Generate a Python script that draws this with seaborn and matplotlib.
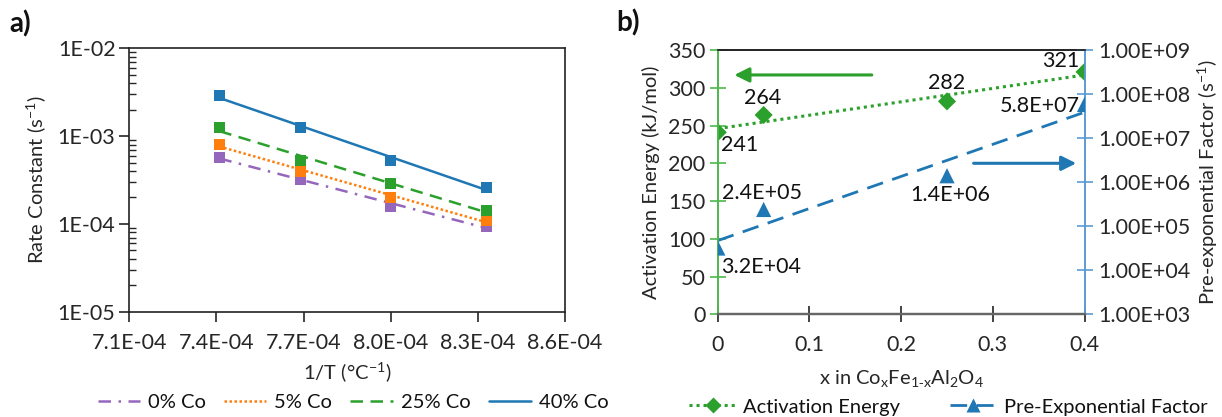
import numpy as np
import pandas as pd
import matplotlib
matplotlib.use("Agg")
import matplotlib.pyplot as plt
import seaborn as sns
from matplotlib.lines import Line2D
from matplotlib.ticker import FixedLocator, FuncFormatter, LogLocator, NullFormatter

# ---------------- data ----------------
inv_T = [7.41e-4, 7.69e-4, 8.00e-4, 8.33e-4]
k_0co = [5.7e-4, 3.2e-4, 1.6e-4, 9.4e-5]
k_5co = [8.0e-4, 4.0e-4, 2.0e-4, 1.1e-4]
k_25co = [1.24e-3, 5.3e-4, 2.88e-4, 1.41e-4]
k_40co = [2.88e-3, 1.26e-3, 5.3e-4, 2.6e-4]
series_names = ["0% Co", "5% Co", "25% Co", "40% Co"]

x_co = [0.0, 0.05, 0.25, 0.40]
act_energy = [241, 264, 282, 321]
pre_exp = [3.2e4, 2.4e5, 1.4e6, 5.8e7]
act_labels = ["241", "264", "282", "321"]
pre_labels = ["3.2E+04", "2.4E+05", "1.4E+06", "5.8E+07"]

a_xticks = [7.1e-4, 7.4e-4, 7.7e-4, 8.0e-4, 8.3e-4, 8.6e-4]
a_yticks = [1e-5, 1e-4, 1e-3, 1e-2]
b_xticks = [0, 0.1, 0.2, 0.3, 0.4]
b_yticks = [0, 50, 100, 150, 200, 250, 300, 350]
b_y2ticks = [1e3, 1e4, 1e5, 1e6, 1e7, 1e8, 1e9]

# ---------------- style ----------------
sns.set_style("ticks")
plt.rcParams["font.family"] = ["Lato", "DejaVu Sans"]
plt.rcParams["axes.linewidth"] = 1.2
plt.rcParams["text.color"] = "#111111"
FT = 15.5   # tick labels
FL = 14.5   # axis titles / legends
FD = 15.5   # data labels

c_purple = "#9467bd"
c_orange = "#ff7f0e"
c_green = "#2ca02c"
c_blue = "#1f77b4"

fig = plt.figure(figsize=(12.22, 4.17), dpi=100)
axA = fig.add_axes([0.1059, 0.2525, 0.3562, 0.6317])
axB = fig.add_axes([0.5874, 0.2463, 0.3001, 0.6337])

# ---------------- panel a ----------------
ks = [k_0co, k_5co, k_25co, k_40co]
colors = [c_purple, c_orange, c_green, c_blue]
styles = [(0, (5, 3, 1, 3)), (0, (1, 1)), (0, (5, 3)), "-"]
handles_a = []
for name, k, col, ls in zip(series_names, ks, colors, styles):
    df = pd.DataFrame({"x": inv_T, "k": k})
    p = np.polyfit(np.array(inv_T), np.log10(k), 1)
    xf = np.array([inv_T[0], inv_T[-1]])
    fit = pd.DataFrame({"x": xf, "k": 10 ** np.polyval(p, xf)})
    sns.lineplot(data=fit, x="x", y="k", ax=axA, color=col, lw=1.8,
                 linestyle=ls, zorder=2)
    sns.scatterplot(data=df, x="x", y="k", ax=axA, color=col, marker="s",
                    s=65, edgecolor="none", zorder=3)
    handles_a.append(Line2D([], [], color=col, lw=1.8, linestyle=ls))

axA.set_yscale("log")
axA.set_xlim(7.1e-4, 8.6e-4)
axA.set_ylim(1e-5, 1e-2)
axA.xaxis.set_major_locator(FixedLocator(a_xticks))
axA.xaxis.set_major_formatter(FuncFormatter(lambda v, p: f"{v*1e4:.1f}E-04"))
axA.yaxis.set_major_locator(FixedLocator(a_yticks))
axA.yaxis.set_major_formatter(FuncFormatter(lambda v, p: f"1E-{abs(int(round(np.log10(v)))):02d}"))
axA.yaxis.set_minor_locator(LogLocator(base=10, subs=np.arange(2, 10)))
axA.yaxis.set_minor_formatter(NullFormatter())
axA.tick_params(axis="y", which="major", direction="out", length=7, width=1.2,
                labelsize=FT, pad=3)
axA.tick_params(axis="y", which="minor", direction="in", length=5, width=1.0)
axA.tick_params(axis="x", which="major", direction="out", length=7, width=1.2,
                labelsize=FT, pad=8)
for s in axA.spines.values():
    s.set_color("#222222")
axA.set_xlabel("1/T (°C$^{\\mathregular{-1}}$)", fontsize=FL, labelpad=6)
axA.set_ylabel("Rate Constant (s$^{\\mathregular{-1}}$)", fontsize=FL, labelpad=6)
fig.legend(handles_a, series_names, loc="center", bbox_to_anchor=(0.289, 0.034),
           ncol=4, frameon=False, fontsize=FL, handlelength=2.1,
           handletextpad=0.4, columnspacing=0.9)
fig.text(0.008, 0.942, "a)", fontsize=20, fontweight="bold", va="center")

# ---------------- panel b ----------------
axB2 = axB.twinx()
dfE = pd.DataFrame({"x": x_co, "E": act_energy})
dfA = pd.DataFrame({"x": x_co, "A": pre_exp})

pE = np.polyfit(np.array(x_co), np.array(act_energy, float), 1)
pA = np.polyfit(np.array(x_co), np.log10(pre_exp), 1)
xf = np.array([0.0, 0.4])
sns.lineplot(data=pd.DataFrame({"x": xf, "E": np.polyval(pE, xf)}), x="x", y="E",
             ax=axB, color=c_green, lw=2.2, linestyle=(0, (1, 1.3)), zorder=2)
sns.scatterplot(data=dfE, x="x", y="E", ax=axB, color=c_green, marker="D",
                s=85, edgecolor="none", zorder=3)
sns.lineplot(data=pd.DataFrame({"x": xf, "A": 10 ** np.polyval(pA, xf)}), x="x", y="A",
             ax=axB2, color=c_blue, lw=2.0, linestyle=(0, (6, 3.5)), zorder=2)
sns.scatterplot(data=dfA, x="x", y="A", ax=axB2, color=c_blue, marker="^",
                s=120, edgecolor="none", zorder=3)

axB.set_xlim(0, 0.4)
axB.set_ylim(0, 350)
axB2.set_yscale("log")
axB2.set_ylim(1e3, 1e9)
axB.xaxis.set_major_locator(FixedLocator(b_xticks))
axB.xaxis.set_major_formatter(FuncFormatter(lambda v, p: "0" if v == 0 else f"{v:.1f}"))
axB.yaxis.set_major_locator(FixedLocator(b_yticks))
axB2.yaxis.set_major_locator(FixedLocator(b_y2ticks))
axB2.yaxis.set_major_formatter(FuncFormatter(lambda v, p: f"1.00E+{int(round(np.log10(v))):02d}"))
axB2.yaxis.set_minor_locator(FixedLocator([]))
axB2.yaxis.set_minor_formatter(NullFormatter())

g_sp = "#4cb84c"
b_sp = "#5b9bd5"
axB.tick_params(axis="x", direction="inout", length=12, width=1.2, labelsize=FT,
                pad=9, color="#222222")
axB.tick_params(axis="y", direction="inout", length=12, width=1.2, labelsize=FT,
                pad=3, color=g_sp)
axB2.tick_params(axis="y", direction="inout", length=12, width=1.2, labelsize=FT,
                 pad=4, color=b_sp)
for ax in (axB, axB2):
    ax.spines["left"].set_color(g_sp)
    ax.spines["right"].set_color(b_sp)
    ax.spines["top"].set_color("#222222")
    ax.spines["bottom"].set_color("#666666")
    ax.spines["bottom"].set_linewidth(1.6)
axB.set_xlabel("x in Co$_\\mathregular{x}$Fe$_\\mathregular{1\u2011x}$Al$_\\mathregular{2}$O$_\\mathregular{4}$",
               fontsize=FL, labelpad=10)
axB.set_ylabel("Activation Energy (kJ/mol)", fontsize=FL, labelpad=6)
axB2.set_ylabel("Pre-exponential Factor (s$^{\\mathregular{-1}}$)", fontsize=FL, labelpad=3)

# data labels
e_pos = [(0.0235, 224), (0.049, 287), (0.249, 307), (0.374, 335)]
a_pos = [(0.047, 62), (0.048, 161), (0.254, 158), (0.351, 276)]
for (xp, yp), t in zip(e_pos, act_labels):
    axB.text(xp, yp, t, fontsize=FD, ha="center", va="center", zorder=5)
for (xp, yp), t in zip(a_pos, pre_labels):
    axB.text(xp, yp, t, fontsize=FD, ha="center", va="center", zorder=5)

# arrows
axB.annotate("", xy=(0.015, 317), xytext=(0.171, 317),
             arrowprops=dict(arrowstyle="-|>", color=c_green, lw=2.2, mutation_scale=22))
axB.annotate("", xy=(0.394, 200), xytext=(0.276, 200),
             arrowprops=dict(arrowstyle="-|>", color=c_blue, lw=2.2, mutation_scale=22))

handles_b = [Line2D([], [], color=c_green, lw=2.2, linestyle=(0, (1, 1.3)), marker="D",
                    markersize=8, markeredgecolor="none"),
             Line2D([], [], color=c_blue, lw=2.0, linestyle=(0, (6, 3.5)), marker="^",
                    markersize=10, markeredgecolor="none")]
fig.legend(handles_b, ["Activation Energy", "Pre-Exponential Factor"], loc="center",
           bbox_to_anchor=(0.776, 0.024), ncol=2, frameon=False, fontsize=FL,
           handlelength=2.3, handletextpad=0.35, columnspacing=2.5)
fig.text(0.504, 0.945, "b)", fontsize=20, fontweight="bold", va="center")

fig.savefig("out.png", dpi=100)
